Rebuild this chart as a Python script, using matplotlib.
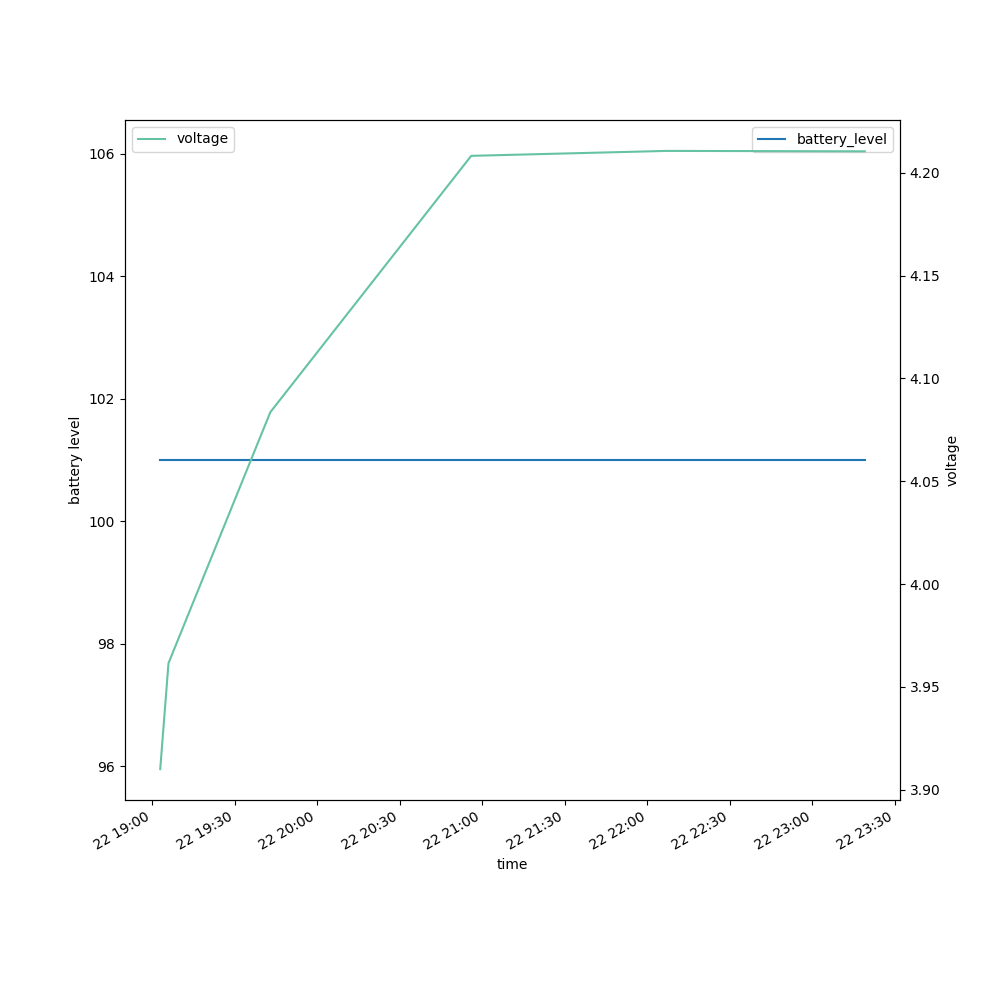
import datetime as dt
import matplotlib
matplotlib.use("Agg")
import matplotlib.pyplot as plt

# sample times (day 22)
times = ["19:03", "19:06", "19:43", "20:56", "22:07", "23:19"]
voltage = [3.910, 3.9615, 4.0836, 4.2083, 4.2107, 4.2105]
battery_level = [101, 101, 101, 101, 101, 101]

stamps = [dt.datetime.strptime("2021-05-22 " + t, "%Y-%m-%d %H:%M") for t in times]

fig, ax = plt.subplots(figsize=(10, 10), dpi=100)
ax.plot(stamps, battery_level, color="#1f77b4", label="battery_level")
ax.set_ylabel("battery level")
ax.set_xlabel("time")
ax.legend(loc="upper right")

ax2 = ax.twinx()
ax2.plot(stamps, voltage, color="#66c2a5", label="voltage")
ax2.set_ylabel("voltage")
ax2.legend(loc="upper left")

fig.autofmt_xdate()
fig.savefig("out.png")
